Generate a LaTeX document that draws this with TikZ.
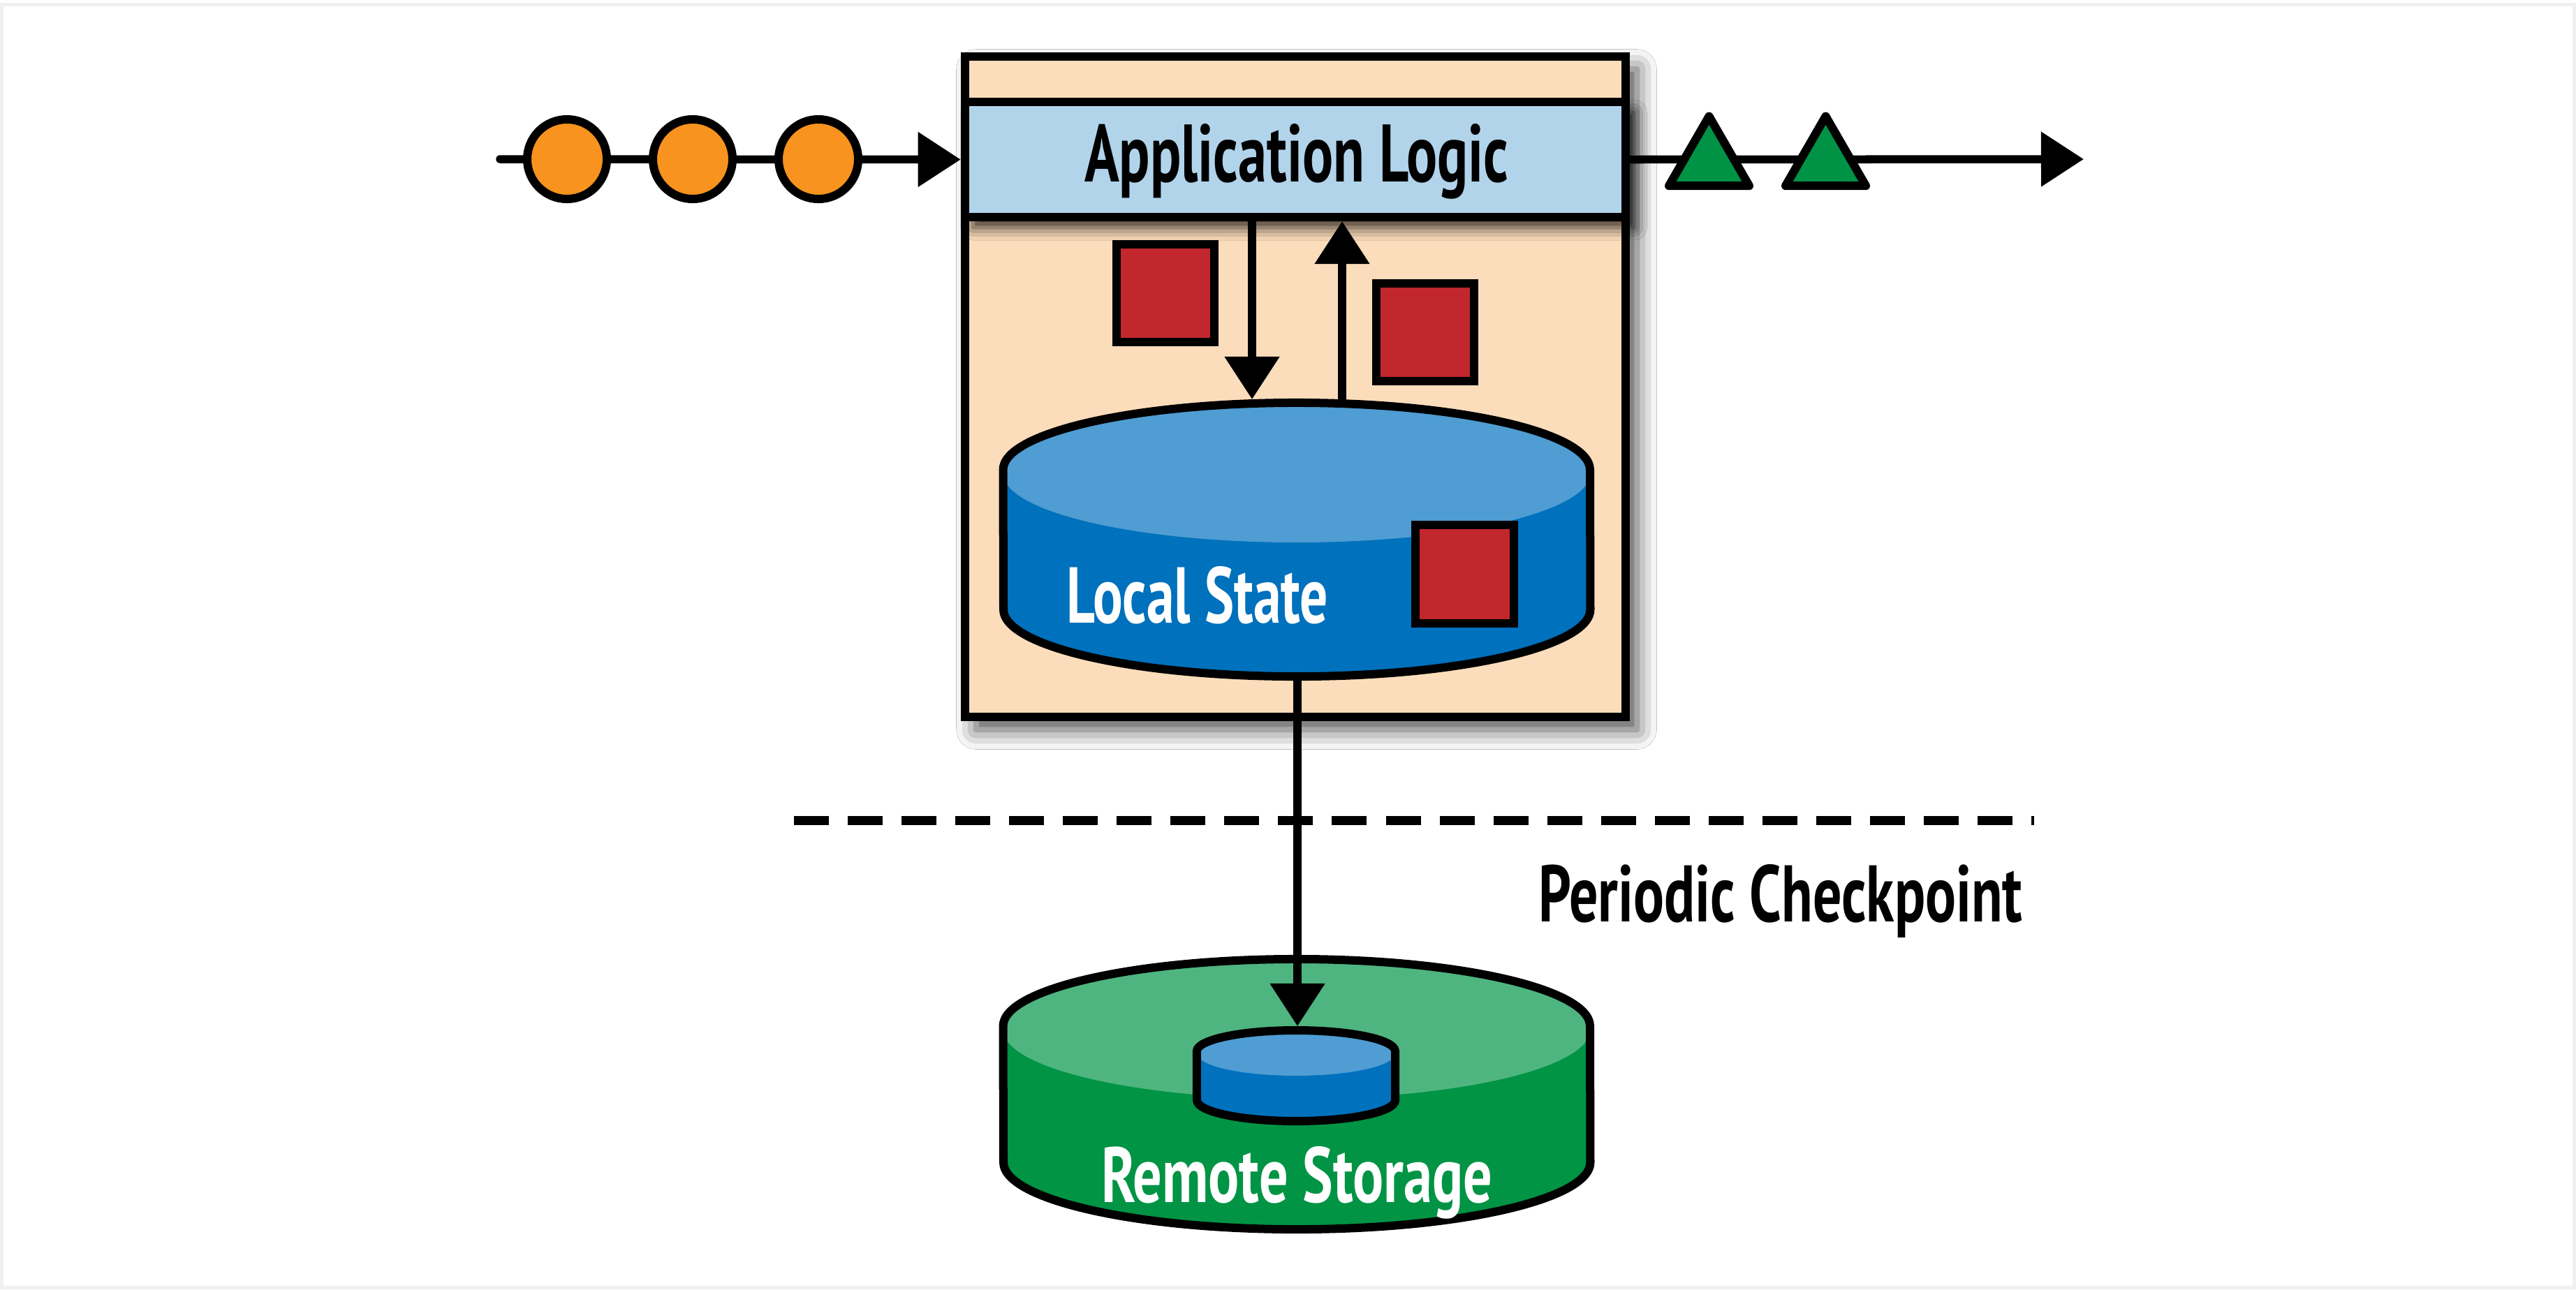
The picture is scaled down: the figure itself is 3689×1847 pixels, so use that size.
\documentclass[tikz,border=0pt]{standalone}
\usepackage{fontspec}
\setmainfont{PT Sans}
\usepackage{graphicx}
\usetikzlibrary{arrows.meta,shadows.blur,shapes.geometric}
\definecolor{peach}{HTML}{FCDDBB}
\definecolor{barblue}{HTML}{B2D4EB}
\definecolor{myred}{HTML}{C1272D}
\definecolor{lsdark}{HTML}{0071BC}
\definecolor{lslight}{HTML}{4F9DD2}
\definecolor{gdark}{HTML}{009444}
\definecolor{glight}{HTML}{4FB580}
\definecolor{myorange}{HTML}{F7931E}
\definecolor{trigreen}{HTML}{009245}
\definecolor{framegray}{HTML}{F0F0F0}
\begin{document}
\begin{tikzpicture}[x=0.01cm,y=-0.01cm,
  outline/.style={draw=black,line width=0.12cm,line join=round},
  conn/.style={draw=black,line width=0.115cm},
  withtip/.style={-{Triangle[length=0.61cm,width=0.76cm]}},
  sq/.style={outline,fill=myred,rectangle,minimum size=1.4cm,inner sep=0pt,outer sep=0pt,line join=miter},
  ev/.style={outline,fill=myorange,circle,minimum size=1.14cm,inner sep=0pt,outer sep=0pt},
  tr/.style={outline,fill=trigreen,regular polygon,regular polygon sides=3,minimum size=1.328cm,inner sep=0pt,outer sep=0pt,line join=round},
  lbl/.style={inner sep=0pt,outer sep=0pt,anchor=base west,font=\bfseries}]
\useasboundingbox (0,0) rectangle (3689,1847);
\fill[white] (0,0) rectangle (3689,1847);
\draw[framegray,line width=0.05cm] (2.5,6.5) rectangle (3686.5,1844.5);

% main box and application logic bar
\node[outline,line join=miter,fill=peach,rectangle,minimum width=9.46cm,minimum height=9.46cm,inner sep=0pt,outer sep=0pt,
  blur shadow={shadow xshift=0.16cm,shadow yshift=-0.18cm,shadow blur radius=0.28cm,shadow opacity=70}] (box) at (1855,554) {};
\node[outline,line join=miter,fill=barblue,rectangle,minimum width=9.46cm,minimum height=1.65cm,inner sep=0pt,outer sep=0pt,
  blur shadow={shadow xshift=0.12cm,shadow yshift=-0.15cm,shadow blur radius=0.18cm,shadow opacity=80}] (bar) at (1855,228.5) {};
\node[lbl] (applbl) at (1553,260) {\resizebox{6.07cm}{0.83cm}{Application Logic}};

% red state items
\node[sq] (sq1) at (1669,420) {};
\node[sq] (sq2) at (2041,476) {};

% local state cylinder
\fill[lsdark] (1437,673) rectangle (2277,873);
\fill[lsdark] (1857,873) ellipse [x radius=4.2cm, y radius=0.96cm];
\fill[lsdark] (1857,673) ellipse [x radius=4.2cm, y radius=0.96cm];
\fill[lslight] (1857,678) ellipse [x radius=4.2cm, y radius=0.99cm];
\draw[outline] (2277,673) arc[start angle=0, end angle=180, x radius=4.2cm, y radius=0.96cm]
  -- (1437,873) arc[start angle=180, end angle=360, x radius=4.2cm, y radius=0.96cm] -- cycle;
\coordinate (lsbot) at (1858,969);
\coordinate (dend) at (1793,572);
\coordinate (ustart) at (1922,578);
\node[sq] (sq3) at (2097.5,822.5) {};
\node[lbl,text=white] (lslbl) at (1527,892) {\resizebox{3.75cm}{0.81cm}{Local State}};

\draw[conn,withtip] (bar.south -| dend) -- (dend);
\draw[conn,withtip,shorten >=0.06cm] (ustart) -- (bar.south -| ustart);

% checkpoint separator
\coordinate (dl) at (1137,1175);
\coordinate (dr) at (2913,1175);
\draw[line width=0.13cm,dash pattern=on 0.5cm off 0.27cm] (dl) -- (dr);
\node[lbl] (pclbl) at (2203,1320) {\resizebox{6.93cm}{0.82cm}{Periodic Checkpoint}};

% remote storage cylinder
\fill[gdark] (1437,1470) rectangle (2277,1665);
\fill[gdark] (1857,1665) ellipse [x radius=4.2cm, y radius=0.96cm];
\fill[gdark] (1857,1470) ellipse [x radius=4.2cm, y radius=0.96cm];
\fill[glight] (1857,1475) ellipse [x radius=4.2cm, y radius=0.99cm];
\draw[outline] (2277,1470) arc[start angle=0, end angle=180, x radius=4.2cm, y radius=0.96cm]
  -- (1437,1665) arc[start angle=180, end angle=360, x radius=4.2cm, y radius=0.96cm] -- cycle;
% small copy of the state
\fill[lsdark] (1714,1506) rectangle (1998,1576);
\fill[lsdark] (1856,1576) ellipse [x radius=1.42cm, y radius=0.30cm];
\fill[lsdark] (1856,1506) ellipse [x radius=1.42cm, y radius=0.30cm];
\fill[lslight] (1856,1509) ellipse [x radius=1.42cm, y radius=0.32cm];
\draw[outline] (1998,1506) arc[start angle=0, end angle=180, x radius=1.42cm, y radius=0.30cm]
  -- (1714,1576) arc[start angle=180, end angle=360, x radius=1.42cm, y radius=0.30cm] -- cycle;
\coordinate (sstop) at (1858,1470);
\node[lbl,text=white] (rslbl) at (1577,1722) {\resizebox{5.60cm}{0.80cm}{Remote Storage}};

\draw[conn,withtip] (lsbot) -- (sstop);

% input stream
\coordinate (in) at (716,228);
\draw[conn,withtip,line cap=round,shorten >=0.06cm] (in) -- (bar.west);
\node[ev] (c1) at (812,228) {};
\node[ev] (c2) at (992,228) {};
\node[ev] (c3) at (1172,228) {};

% output stream
\coordinate (out) at (2984,228);
\draw[conn,withtip] (bar.east) -- (out);
\node[tr] (t1) at (2447.5,233) {};
\node[tr] (t2) at (2614.5,233) {};
\end{tikzpicture}
\end{document}
